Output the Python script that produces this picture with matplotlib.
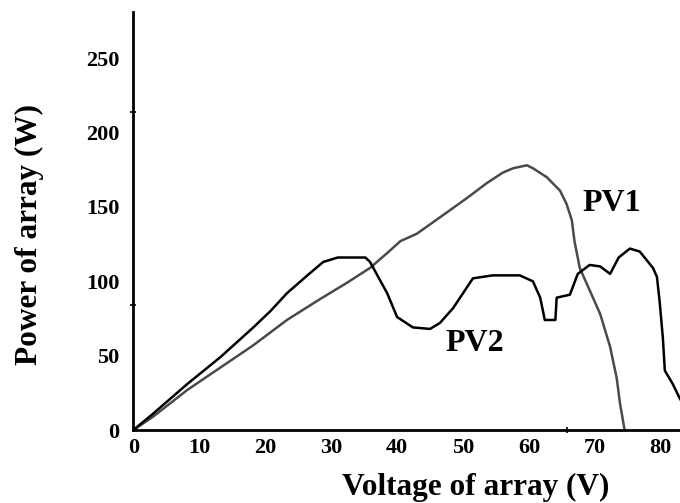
import matplotlib
matplotlib.use('Agg')
import matplotlib.pyplot as plt

# PV1: voltage (V) / power (W)
pv1_v = [0, 3, 8.2, 13.2, 18.2, 23.3, 28.3, 32.4, 35.9, 38.5, 40.5, 43, 46.5, 50.6,
         53.6, 56, 57.6, 59.7, 60.6, 62.7, 64.7, 65.7, 66.5, 66.9, 67.7, 68.8, 70.8,
         72.3, 73.3, 73.8, 74.5]
pv1_w = [0, 9, 27, 42, 57, 74, 88, 99, 109, 119, 127, 132, 143, 156,
         166, 173, 176, 178, 176, 170, 161, 152, 141, 127, 109, 98, 78,
         56, 35, 18, 0]

# PV2: voltage (V) / power (W)
pv2_v = [0, 3, 8.2, 13.2, 18.2, 20.8, 23.3, 26.4, 28.8, 31, 35.2, 35.9, 38.5, 40,
         42.4, 45, 46.5, 48.5, 50.6, 51.5, 54.5, 58.6, 60.6, 61.7, 62.4, 64, 64.2,
         66.2, 67.4, 69.2, 70.8, 72.3, 73.6, 75.3, 76.8, 78.8, 79.4, 79.8, 80.3,
         80.6, 81.8, 82.9, 84]
pv2_w = [0, 11, 31, 49, 69, 80, 92, 104, 113, 116, 116, 113, 92, 76,
         69, 68, 72, 82, 96, 102, 104, 104, 100, 89, 74, 74, 89,
         91, 105, 111, 110, 105, 116, 122, 120, 109, 103, 87, 62,
         40, 31, 21, 13]

x_ticks = [0, 10, 20, 30, 40, 50, 60, 70, 80]
y_ticks = [0, 50, 100, 150, 200, 250]

plt.rcParams['font.family'] = ['Liberation Serif', 'DejaVu Serif']
plt.rcParams['font.weight'] = 'bold'

fig = plt.figure(figsize=(6.8, 5.03), dpi=100)
ax = fig.add_axes([0.196, 0.145, 0.804, 0.831])

ax.plot(pv1_v, pv1_w, color='#4a4a4a', lw=1.8)
ax.plot(pv2_v, pv2_w, color='black', lw=1.8)

ax.text(72.5, 152, 'PV1', fontsize=23, fontweight='bold', ha='center', va='center')
ax.text(51.8, 58, 'PV2', fontsize=23, fontweight='bold', ha='center', va='center')

ax.set_xlim(0, 82.9)
ax.set_ylim(0, 281)
ax.set_xticks(x_ticks)
ax.set_yticks(y_ticks)
ax.set_xticks([65.7], minor=True)
ax.set_yticks([84, 214], minor=True)
ax.tick_params(axis='both', which='major', length=0, labelsize=16)
ax.tick_params(axis='x', which='major', pad=6)
ax.tick_params(axis='y', which='major', pad=10)
ax.tick_params(axis='both', which='minor', direction='inout', length=5, width=1.2)
for lab in ax.get_xticklabels() + ax.get_yticklabels():
    lab.set_fontweight('bold')

for s in ['top', 'right']:
    ax.spines[s].set_visible(False)
for s in ['left', 'bottom']:
    ax.spines[s].set_linewidth(2)

fig.text(0.70, 0.03, 'Voltage of array (V)', fontsize=22.5, fontweight='bold',
         ha='center', va='center')
fig.text(0.043, 0.533, 'Power of array (W)', fontsize=22.5, fontweight='bold',
         ha='center', va='center', rotation=90)

fig.savefig('out.png', dpi=100)
